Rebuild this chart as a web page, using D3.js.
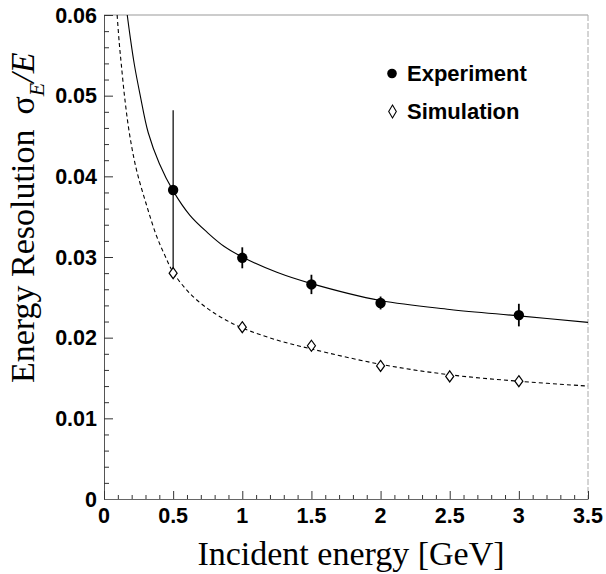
<!DOCTYPE html>
<html>
<head>
<meta charset="utf-8">
<script src="https://cdn.jsdelivr.net/npm/d3@7"></script>
<style>
  html, body { margin: 0; padding: 0; background: #fff; }
  svg { display: block; }
</style>
</head>
<body>
<script>
const width = 606;
const height = 574;

// measured points
const expEnergy = [0.5, 1, 1.5, 2, 3];
const expRes = [0.0383, 0.0299, 0.0266, 0.0243, 0.0228];
const expErr = [0.0099, 0.0013, 0.0012, 0.0008, 0.0014];

const simEnergy = [0.5, 1, 1.5, 2, 2.5, 3];
const simRes = [0.0280, 0.0213, 0.0190, 0.0165, 0.0152, 0.0146];

// fit curves
const expFitE = [0.168, 0.19, 0.22, 0.26, 0.32, 0.40, 0.50, 0.62, 0.75, 0.87, 1.0, 1.25, 1.5, 2.0, 2.5, 3.0, 3.5];
const expFitRes = [0.0600, 0.0572, 0.0538, 0.0502, 0.0454, 0.0416, 0.0382, 0.0352, 0.0330, 0.0313, 0.0300, 0.0281, 0.0267, 0.0246, 0.0235, 0.0227, 0.0219];

const simFitE = [0.095, 0.110, 0.125, 0.150, 0.185, 0.235, 0.31, 0.38, 0.44, 0.50, 0.62, 0.75, 0.87, 1.0, 1.25, 1.5, 2.0, 2.5, 3.0, 3.5];
const simFitRes = [0.0600, 0.0566, 0.0539, 0.0497, 0.0452, 0.0408, 0.0363, 0.0326, 0.0302, 0.0281, 0.0255, 0.0236, 0.0223, 0.0212, 0.0197, 0.0186, 0.0167, 0.0154, 0.0146, 0.0140];

const xTicks = [0, 0.5, 1, 1.5, 2, 2.5, 3, 3.5];
const xTickLabels = ['0', '0.5', '1', '1.5', '2', '2.5', '3', '3.5'];
const yTicks = [0, 0.01, 0.02, 0.03, 0.04, 0.05, 0.06];
const yTickLabels = ['0', '0.01', '0.02', '0.03', '0.04', '0.05', '0.06'];

const legendLabels = ['Experiment', 'Simulation'];

const padLeft = 104, padRight = 588, padTop = 15, padBottom = 499;

let x = d3.scaleLinear().domain([0, 3.5]).range([padLeft, padRight]);
let y = d3.scaleLinear().domain([0, 0.06]).range([padBottom, padTop]);

let svg = d3.select('body').append('svg')
  .attr('width', width)
  .attr('height', height);

svg.append('rect').attr('width', width).attr('height', height).attr('fill', '#fff');

svg.append('clipPath').attr('id', 'plot')
  .append('rect')
  .attr('x', padLeft).attr('y', padTop)
  .attr('width', padRight - padLeft).attr('height', padBottom - padTop);

// frame: top and right are faint in the scan
svg.append('line')
  .attr('x1', padLeft).attr('x2', padRight).attr('y1', padTop).attr('y2', padTop)
  .attr('stroke', '#999').attr('stroke-width', 1);
svg.append('line')
  .attr('x1', padRight).attr('x2', padRight).attr('y1', padTop).attr('y2', padBottom)
  .attr('stroke', '#aaa').attr('stroke-width', 1).attr('stroke-dasharray', '6,2');

// axes with ticks pointing inward
let yAxis = d3.axisRight(y)
  .tickValues(d3.range(0, 0.0601, 0.002))
  .tickSize(0)
  .tickFormat('');
let gy = svg.append('g').attr('transform', `translate(${padLeft},0)`).call(yAxis);
gy.select('.domain').attr('stroke', '#555');
gy.selectAll('.tick line')
  .attr('x2', (d) => Math.abs(Math.round(d * 100) - d * 100) < 1e-6 ? 9 : 5)
  .attr('stroke', '#333');

let xAxis = d3.axisTop(x)
  .tickValues(d3.range(0, 3.501, 0.1))
  .tickSize(0)
  .tickFormat('');
let gx = svg.append('g').attr('transform', `translate(0,${padBottom})`).call(xAxis);
gx.select('.domain').attr('stroke', '#666');
gx.selectAll('.tick line')
  .attr('y2', (d) => Math.abs(Math.round(d * 2) - d * 2) < 1e-6 ? -8 : -4)
  .attr('stroke', '#333');

let tickFont = 'Liberation Sans, Arial, Helvetica, sans-serif';

svg.append('g').selectAll('text')
  .data(yTicks)
  .enter().append('text')
  .attr('x', 97)
  .attr('y', (d) => y(d) + 7.5)
  .attr('text-anchor', 'end')
  .attr('font-family', tickFont)
  .attr('font-weight', 'bold')
  .attr('font-size', 21.5)
  .text((d, i) => yTickLabels[i]);

svg.append('g').selectAll('text')
  .data(xTicks)
  .enter().append('text')
  .attr('x', (d) => x(d))
  .attr('y', 523)
  .attr('text-anchor', 'middle')
  .attr('font-family', tickFont)
  .attr('font-weight', 'bold')
  .attr('font-size', 21.5)
  .text((d, i) => xTickLabels[i]);

// axis titles
let serif = 'Liberation Serif, Times New Roman, Times, serif';

svg.append('text')
  .attr('x', 351)
  .attr('y', 565)
  .attr('text-anchor', 'middle')
  .attr('font-family', serif)
  .attr('font-size', 34)
  .text('Incident energy [GeV]');

let ytitle = svg.append('text')
  .attr('transform', 'translate(34,383) rotate(-90)')
  .attr('font-family', serif)
  .attr('font-size', 34);
ytitle.append('tspan').text('Energy Resolution');
ytitle.append('tspan').attr('dx', 15).text('σ');
ytitle.append('tspan').attr('font-style', 'italic').attr('font-size', 22).attr('dy', 10).text('E');
ytitle.append('tspan').attr('font-style', 'italic').attr('dy', -10).text('/E');

// fit curves
let plot = svg.append('g').attr('clip-path', 'url(#plot)');

let line = d3.line()
  .x((d) => x(d[0]))
  .y((d) => y(d[1]))
  .curve(d3.curveCatmullRom.alpha(0.5));

plot.append('path')
  .datum(d3.zip(expFitE, expFitRes))
  .attr('d', line)
  .attr('fill', 'none')
  .attr('stroke', '#000')
  .attr('stroke-width', 1.1);

plot.append('path')
  .datum(d3.zip(simFitE, simFitRes))
  .attr('d', line)
  .attr('fill', 'none')
  .attr('stroke', '#000')
  .attr('stroke-width', 1.1)
  .attr('stroke-dasharray', '4,3');

// error bars
plot.append('g').selectAll('line')
  .data(expEnergy)
  .enter().append('line')
  .attr('x1', (d) => x(d))
  .attr('x2', (d) => x(d))
  .attr('y1', (d, i) => y(expRes[i] + expErr[i]))
  .attr('y2', (d, i) => y(expRes[i] - expErr[i]))
  .attr('stroke', '#000')
  .attr('stroke-width', (d, i) => expErr[i] > 0.005 ? 1.2 : 1.8);

let diamond = (cx, cy) => `M${cx},${cy - 5.5}L${cx + 4},${cy}L${cx},${cy + 5.5}L${cx - 4},${cy}Z`;

plot.append('g').selectAll('path')
  .data(simEnergy)
  .enter().append('path')
  .attr('d', (d, i) => diamond(x(d), y(simRes[i])))
  .attr('fill', '#fff')
  .attr('stroke', '#000')
  .attr('stroke-width', 1.2);

plot.append('g').selectAll('circle')
  .data(expEnergy)
  .enter().append('circle')
  .attr('cx', (d) => x(d))
  .attr('cy', (d, i) => y(expRes[i]))
  .attr('r', 5.2)
  .attr('fill', '#000');

// legend
let legend = svg.append('g');
legend.append('circle')
  .attr('cx', 392).attr('cy', 73.5).attr('r', 4.8).attr('fill', '#000');
legend.append('path')
  .attr('d', 'M392.5,105L396.3,111.5L392.5,118L388.7,111.5Z')
  .attr('fill', '#fff').attr('stroke', '#000').attr('stroke-width', 1.1);
legend.selectAll('text')
  .data(legendLabels)
  .enter().append('text')
  .attr('x', 407)
  .attr('y', (d, i) => i === 0 ? 81 : 119)
  .attr('font-family', tickFont)
  .attr('font-weight', 'bold')
  .attr('font-size', 22)
  .text((d) => d);
</script>
</body>
</html>
